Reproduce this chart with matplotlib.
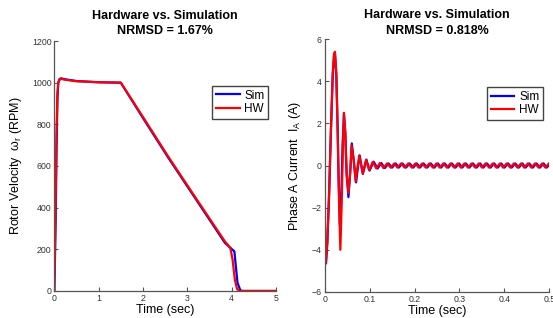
import matplotlib
matplotlib.use('Agg')
import matplotlib.pyplot as plt

plt.rcParams['font.family'] = ['Liberation Sans', 'DejaVu Sans']
plt.rcParams['mathtext.fontset'] = 'custom'
plt.rcParams['mathtext.rm'] = 'Liberation Sans'
plt.rcParams['mathtext.it'] = 'Liberation Sans'

# rotor speed (RPM) vs time (sec)
sim_t = [0, 0.01, 0.03, 0.05, 0.07, 0.09, 0.12, 0.15, 0.25, 0.5, 1.0, 1.5,
         2.0, 2.56, 3.1, 3.6, 3.85, 4.06, 4.13, 4.19, 4.22, 5.0]
sim_rpm = [0, 100, 330, 680, 920, 1000, 1018, 1021, 1016, 1008, 1002, 1000,
           830, 643, 470, 310, 230, 190, 40, 6, 0, 0]
hw_t = [0, 0.01, 0.03, 0.05, 0.07, 0.09, 0.12, 0.15, 0.25, 0.5, 1.0, 1.5,
        2.0, 2.56, 3.1, 3.6, 3.85, 3.97, 4.02, 4.07, 4.12, 4.17, 5.0]
hw_rpm = [0, 150, 420, 760, 950, 1002, 1015, 1018, 1014, 1007, 1002, 1000,
          835, 648, 475, 316, 237, 206, 150, 55, 10, 0, 0]

# phase A current (A) vs time (sec)
sim_ti = [0, 0.001, 0.003, 0.006, 0.010, 0.014, 0.018, 0.021, 0.023, 0.026,
          0.029, 0.031, 0.034, 0.037, 0.040, 0.043, 0.046, 0.049, 0.053, 0.057,
          0.0605, 0.065, 0.070, 0.074, 0.078, 0.085, 0.093, 0.100, 0.109,
          0.118, 0.126, 0.134, 0.142, 0.150, 0.158, 0.165, 0.173, 0.181, 0.189,
          0.197, 0.205, 0.212, 0.220, 0.228, 0.236, 0.244, 0.252, 0.259, 0.267,
          0.275, 0.283, 0.291, 0.299, 0.306, 0.314, 0.322, 0.330, 0.338, 0.346,
          0.353, 0.361, 0.369, 0.377, 0.385, 0.393, 0.400, 0.408, 0.416, 0.424,
          0.432, 0.440, 0.447, 0.455, 0.463, 0.471, 0.479, 0.487, 0.494, 0.500]
sim_ia = [0, -4.0, -4.65, -3.7, -1.4, 1.6, 4.2, 5.2, 5.3, 4.3,
          1.8, -0.5, -2.8, -1.6, 1.0, 2.4, 1.6, -0.4, -1.5, -0.3,
          1.05, 0.2, -0.8, -0.1, 0.48, -0.4, 0.28, -0.24, 0.18,
          -0.14, 0.12, -0.12, 0.1, -0.1, 0.1, -0.1, 0.1, -0.1, 0.1,
          -0.1, 0.1, -0.1, 0.1, -0.1, 0.1, -0.1, 0.1, -0.1, 0.1,
          -0.1, 0.1, -0.1, 0.1, -0.1, 0.1, -0.1, 0.1, -0.1, 0.1,
          -0.1, 0.1, -0.1, 0.1, -0.1, 0.1, -0.1, 0.1, -0.1, 0.1,
          -0.1, 0.1, -0.1, 0.1, -0.1, 0.1, -0.1, 0.1, -0.1, 0.05]
hw_ti = [0, 0.001, 0.003, 0.006, 0.010, 0.014, 0.018, 0.021, 0.023, 0.026,
         0.029, 0.032, 0.035, 0.038, 0.041, 0.043, 0.046, 0.049, 0.053, 0.057,
         0.060, 0.065, 0.069, 0.073, 0.077, 0.085, 0.092, 0.099, 0.107,
         0.115, 0.123, 0.131, 0.139, 0.147, 0.155, 0.162, 0.170, 0.178, 0.186,
         0.194, 0.202, 0.209, 0.217, 0.225, 0.233, 0.241, 0.249, 0.256, 0.264,
         0.272, 0.280, 0.288, 0.296, 0.303, 0.311, 0.319, 0.327, 0.335, 0.343,
         0.350, 0.358, 0.366, 0.374, 0.382, 0.390, 0.397, 0.405, 0.413, 0.421,
         0.429, 0.437, 0.444, 0.452, 0.460, 0.468, 0.476, 0.484, 0.491, 0.499]
hw_ia = [0, -3.9, -4.6, -3.6, -1.3, 1.7, 4.4, 5.3, 5.4, 4.4,
         1.6, -1.6, -4.0, -1.8, 1.2, 2.5, 1.5, -0.4, -1.3, -0.3,
         0.95, 0.2, -0.75, -0.1, 0.47, -0.38, 0.27, -0.22, 0.17,
         -0.14, 0.12, -0.12, 0.1, -0.1, 0.1, -0.1, 0.1, -0.1, 0.1,
         -0.1, 0.1, -0.1, 0.1, -0.1, 0.1, -0.1, 0.1, -0.1, 0.1,
         -0.1, 0.1, -0.1, 0.1, -0.1, 0.1, -0.1, 0.1, -0.1, 0.1,
         -0.1, 0.1, -0.1, 0.1, -0.1, 0.1, -0.1, 0.1, -0.1, 0.1,
         -0.1, 0.1, -0.1, 0.1, -0.1, 0.1, -0.1, 0.1, -0.1, 0.1]

speed_ticks = [0, 200, 400, 600, 800, 1000, 1200]
current_ticks = [-6, -4, -2, 0, 2, 4, 6]

fig = plt.figure(figsize=(5.53, 3.18), dpi=100)
ax1 = fig.add_axes([0.0982, 0.085, 0.401, 0.786])
ax2 = fig.add_axes([0.587, 0.082, 0.4065, 0.795])

axis_col = '#555555'


def style(ax):
    for s in ['top', 'right']:
        ax.spines[s].set_visible(False)
    for s in ['left', 'bottom']:
        ax.spines[s].set_color(axis_col)
        ax.spines[s].set_linewidth(0.9)
    ax.tick_params(direction='in', length=3, width=0.8, colors=axis_col,
                   labelsize=6.3, labelcolor='#333333', pad=2)


def legend(ax, anchor):
    ax.legend(loc='upper right', bbox_to_anchor=anchor, borderaxespad=0,
              fancybox=False, edgecolor='#444444', fontsize=8.5,
              handlelength=2.0, borderpad=0.3, labelspacing=0.15,
              handletextpad=0.4, framealpha=1)


ax1.plot(sim_t, sim_rpm, color='#0000ff', lw=1.6, label='Sim')
ax1.plot(hw_t, hw_rpm, color='#ff0000', lw=1.6, label='HW')
ax1.set_xlim(0, 5)
ax1.set_ylim(0, 1200)
ax1.set_yticks(speed_ticks)
ax1.set_xticks([0, 1, 2, 3, 4, 5])
style(ax1)
ax1.set_xlabel('Time (sec)', fontsize=9, labelpad=1)
ax1.set_ylabel(r'Rotor Velocity  $\omega_r$ (RPM)', fontsize=9, labelpad=6)
ax1.set_title('Hardware vs. Simulation\nNRMSD = 1.67%', fontsize=9,
              fontweight='bold', linespacing=1.35, pad=5)
legend(ax1, (0.964, 0.82))

ax2.plot(sim_ti, sim_ia, color='#0000ff', lw=1.6, label='Sim')
ax2.plot(hw_ti, hw_ia, color='#ff0000', lw=1.6, label='HW')
ax2.set_xlim(0, 0.5)
ax2.set_ylim(-6, 6)
ax2.set_yticks(current_ticks)
ax2.set_xticks([0, 0.1, 0.2, 0.3, 0.4, 0.5])
ax2.set_xticklabels(['0', '0.1', '0.2', '0.3', '0.4', '0.5'])
style(ax2)
ax2.set_xlabel('Time (sec)', fontsize=9, labelpad=1)
ax2.set_ylabel(r'Phase A Current  $I_A$ (A)', fontsize=9, labelpad=6)
ax2.set_title('Hardware vs. Simulation\nNRMSD = 0.818%', fontsize=9,
              fontweight='bold', linespacing=1.35, pad=4)
legend(ax2, (0.971, 0.81))

fig.savefig('out.png', dpi=100)
